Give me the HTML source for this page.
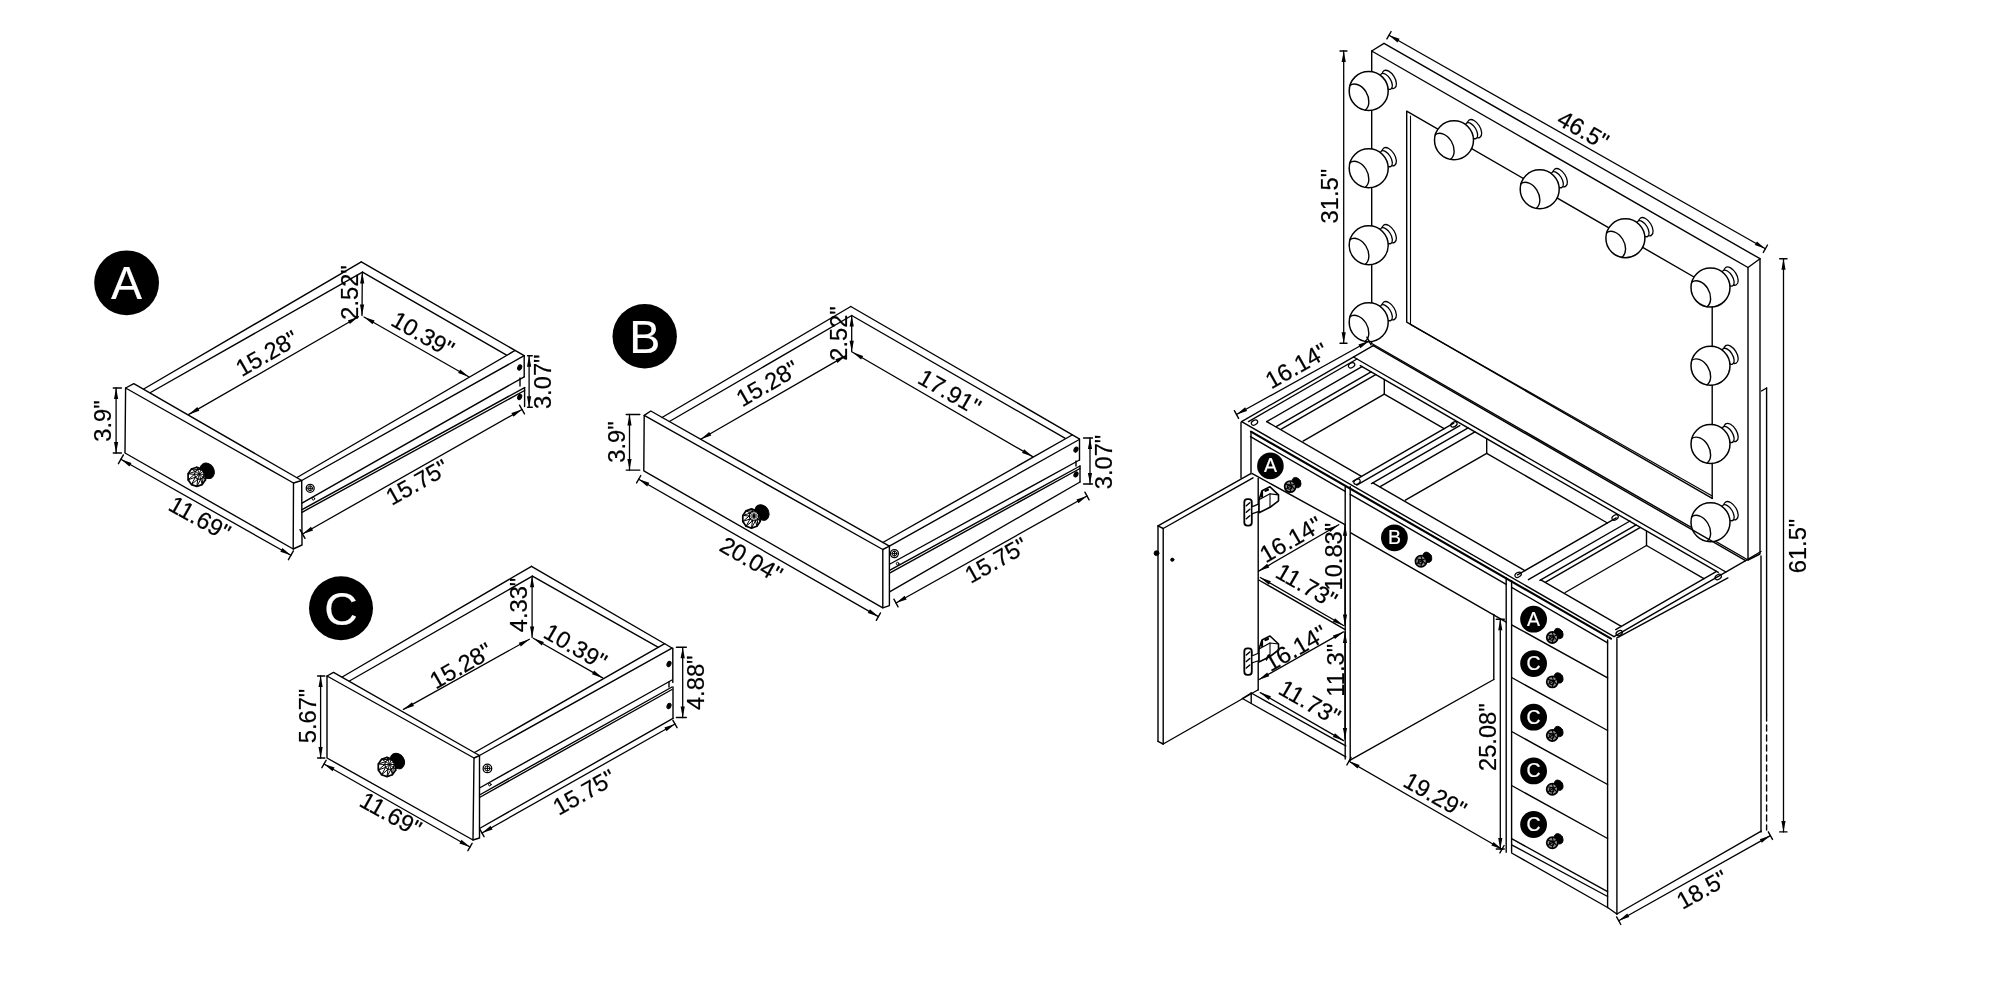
<!DOCTYPE html>
<html><head><meta charset="utf-8"><style>
html,body{margin:0;padding:0;background:#fff;width:2000px;height:1000px;overflow:hidden}
svg{display:block;filter:grayscale(100%)}
svg text{font-family:"Liberation Sans",sans-serif}
</style></head><body>
<svg width="2000" height="1000" viewBox="0 0 2000 1000">
<rect width="2000" height="1000" fill="#fff"/>
<g fill="none" stroke="#000" stroke-width="1.4" stroke-linecap="round" stroke-linejoin="round">
<circle cx="126.6" cy="282.8" r="32.4" fill="#000" stroke="none"/>
<text transform="translate(126.6 282.8) rotate(0)" x="0" y="16.6" font-size="46.5" text-anchor="middle" fill="#fff" stroke="#fff" stroke-width="0.2">A</text>
<polygon points="125.6,388 293.5,483 293.2,549 125,453"/>
<polyline points="125.6,388 133.8,383.7 301.7,480.5 293.5,483"/>
<polyline points="301.7,480.5 302,545 293.2,549"/>
<line x1="143.7" y1="389" x2="361.3" y2="261.9"/>
<line x1="150.5" y1="392.5" x2="362.5" y2="272.1"/>
<line x1="361.3" y1="261.9" x2="524.2" y2="355.7"/>
<line x1="362.5" y1="272.1" x2="506.6" y2="355.2"/>
<line x1="514.7" y1="350.7" x2="297" y2="477.5"/>
<line x1="524.2" y1="355.7" x2="301.7" y2="480.5"/>
<line x1="524.2" y1="355.7" x2="524.2" y2="376.8"/>
<line x1="524.2" y1="376.8" x2="302" y2="503.2"/>
<line x1="520" y1="378" x2="520" y2="386"/>
<line x1="524.6" y1="387.6" x2="302" y2="509.7"/>
<line x1="524.6" y1="390.5" x2="302" y2="512.3"/>
<line x1="524.6" y1="387.6" x2="524.6" y2="406.5"/>
<circle cx="310.2" cy="488.3" r="4" stroke-width="1.3"/>
<circle cx="310.2" cy="488.3" r="2.4" stroke-width="1"/>
<line x1="307.8" y1="488.3" x2="312.6" y2="488.3" stroke-width="1"/>
<line x1="310.2" y1="485.9" x2="310.2" y2="490.7" stroke-width="1"/>
<circle cx="313.4" cy="498.7" r="1.3" stroke-width="1"/>
<ellipse cx="0" cy="0" rx="1.9" ry="2.7" transform="translate(519.7 367.5) rotate(25)" stroke-width="1" fill="#000"/>
<ellipse cx="0" cy="0" rx="1.9" ry="2.7" transform="translate(519.7 397) rotate(25)" stroke-width="1" fill="#000"/>
<line x1="116.1" y1="388" x2="116.1" y2="453" stroke-width="1.3"/>
<polygon fill="#000" stroke="none" points="116.1,388 118.2,399 114,399"/>
<polygon fill="#000" stroke="none" points="116.1,453 114,442 118.2,442"/>
<line x1="113.3" y1="388" x2="121.4" y2="388" stroke-width="1.4"/>
<line x1="113.3" y1="453" x2="121.4" y2="453" stroke-width="1.4"/>
<text transform="translate(102.8 421) rotate(-90)" x="0" y="8.5" font-size="23.7" text-anchor="middle" fill="#000" stroke="#000" stroke-width="0.2">3.9"</text>
<line x1="120.9" y1="459.3" x2="290.9" y2="555.3" stroke-width="1.3"/>
<polygon fill="#000" stroke="none" points="120.9,459.3 131.5,462.9 129.4,466.5"/>
<polygon fill="#000" stroke="none" points="290.9,555.3 280.3,551.7 282.4,548.1"/>
<line x1="123.4" y1="454.9" x2="118.4" y2="463.7" stroke-width="1.4"/>
<line x1="293.4" y1="550.9" x2="288.4" y2="559.7" stroke-width="1.4"/>
<text transform="translate(200 518) rotate(29.5)" x="0" y="8.5" font-size="23.7" text-anchor="middle" fill="#000" stroke="#000" stroke-width="0.2">11.69"</text>
<line x1="188.8" y1="414.4" x2="358.4" y2="316.8" stroke-width="1.3"/>
<polygon fill="#000" stroke="none" points="188.8,414.4 197.3,407.1 199.4,410.7"/>
<polygon fill="#000" stroke="none" points="358.4,316.8 349.9,324.1 347.8,320.5"/>
<text transform="translate(266.7 353) rotate(-30)" x="0" y="8.5" font-size="23.7" text-anchor="middle" fill="#000" stroke="#000" stroke-width="0.2">15.28"</text>
<line x1="364" y1="317" x2="468.7" y2="376.7" stroke-width="1.3"/>
<polygon fill="#000" stroke="none" points="364,317 374.6,320.6 372.5,324.3"/>
<polygon fill="#000" stroke="none" points="468.7,376.7 458.1,373.1 460.2,369.4"/>
<text transform="translate(423 334) rotate(30)" x="0" y="8.5" font-size="23.7" text-anchor="middle" fill="#000" stroke="#000" stroke-width="0.2">10.39"</text>
<line x1="362.3" y1="272.5" x2="362" y2="315.5" stroke-width="1.3"/>
<polygon fill="#000" stroke="none" points="362.3,272.5 364.3,283.5 360.1,283.5"/>
<polygon fill="#000" stroke="none" points="362,315.5 360,304.5 364.2,304.5"/>
<text transform="translate(349.7 292.5) rotate(-90)" x="0" y="8.5" font-size="23.7" text-anchor="middle" fill="#000" stroke="#000" stroke-width="0.2">2.52"</text>
<line x1="529.1" y1="355.7" x2="529.1" y2="407.2" stroke-width="1.3"/>
<polygon fill="#000" stroke="none" points="529.1,355.7 531.2,366.7 527,366.7"/>
<polygon fill="#000" stroke="none" points="529.1,407.2 527,396.2 531.2,396.2"/>
<line x1="527.6" y1="355.7" x2="532.3" y2="355.7" stroke-width="1.4"/>
<line x1="527.6" y1="407.2" x2="532.3" y2="407.2" stroke-width="1.4"/>
<text transform="translate(542 381.8) rotate(-90)" x="0" y="8.5" font-size="23.7" text-anchor="middle" fill="#000" stroke="#000" stroke-width="0.2">3.07"</text>
<line x1="302.5" y1="534" x2="522" y2="409.5" stroke-width="1.3"/>
<polygon fill="#000" stroke="none" points="302.5,534 311,526.7 313.1,530.4"/>
<polygon fill="#000" stroke="none" points="522,409.5 513.5,416.8 511.4,413.1"/>
<line x1="300" y1="529.7" x2="305" y2="538.3" stroke-width="1.4"/>
<line x1="519.5" y1="405.2" x2="524.5" y2="413.8" stroke-width="1.4"/>
<text transform="translate(417 482) rotate(-29.5)" x="0" y="8.5" font-size="23.7" text-anchor="middle" fill="#000" stroke="#000" stroke-width="0.2">15.75"</text>
<ellipse cx="0" cy="0" rx="6.6" ry="8.2" transform="translate(207.3 470.8) rotate(-32)" stroke-width="1" fill="#000"/>
<polygon points="196.8,467.2 202.2,469 205.5,473.8 205.5,479.8 202.2,484.6 196.8,486.4 191.4,484.6 188.1,479.8 188.1,473.8 191.4,469" stroke-width="1.7" fill="#fff"/>
<polygon points="200.8,469.5 203.2,471.4 204.1,474.3 203.2,477.2 200.8,479.1 197.8,479.1 195.4,477.2 194.5,474.3 195.4,471.4 197.8,469.5" stroke-width="1.1"/>
<line x1="200.8" y1="469.5" x2="196.8" y2="467.2" stroke-width="1"/>
<line x1="200.8" y1="469.5" x2="202.2" y2="469" stroke-width="1"/>
<line x1="200.8" y1="469.5" x2="199.3" y2="474.3" stroke-width="0.9"/>
<line x1="203.2" y1="471.4" x2="202.2" y2="469" stroke-width="1"/>
<line x1="203.2" y1="471.4" x2="205.5" y2="473.8" stroke-width="1"/>
<line x1="203.2" y1="471.4" x2="199.3" y2="474.3" stroke-width="0.9"/>
<line x1="204.1" y1="474.3" x2="205.5" y2="473.8" stroke-width="1"/>
<line x1="204.1" y1="474.3" x2="205.5" y2="479.8" stroke-width="1"/>
<line x1="204.1" y1="474.3" x2="199.3" y2="474.3" stroke-width="0.9"/>
<line x1="203.2" y1="477.2" x2="205.5" y2="479.8" stroke-width="1"/>
<line x1="203.2" y1="477.2" x2="202.2" y2="484.6" stroke-width="1"/>
<line x1="203.2" y1="477.2" x2="199.3" y2="474.3" stroke-width="0.9"/>
<line x1="200.8" y1="479.1" x2="202.2" y2="484.6" stroke-width="1"/>
<line x1="200.8" y1="479.1" x2="196.8" y2="486.4" stroke-width="1"/>
<line x1="200.8" y1="479.1" x2="199.3" y2="474.3" stroke-width="0.9"/>
<line x1="197.8" y1="479.1" x2="196.8" y2="486.4" stroke-width="1"/>
<line x1="197.8" y1="479.1" x2="191.4" y2="484.6" stroke-width="1"/>
<line x1="197.8" y1="479.1" x2="199.3" y2="474.3" stroke-width="0.9"/>
<line x1="195.4" y1="477.2" x2="191.4" y2="484.6" stroke-width="1"/>
<line x1="195.4" y1="477.2" x2="188.1" y2="479.8" stroke-width="1"/>
<line x1="195.4" y1="477.2" x2="199.3" y2="474.3" stroke-width="0.9"/>
<line x1="194.5" y1="474.3" x2="188.1" y2="479.8" stroke-width="1"/>
<line x1="194.5" y1="474.3" x2="188.1" y2="473.8" stroke-width="1"/>
<line x1="194.5" y1="474.3" x2="199.3" y2="474.3" stroke-width="0.9"/>
<line x1="195.4" y1="471.4" x2="188.1" y2="473.8" stroke-width="1"/>
<line x1="195.4" y1="471.4" x2="191.4" y2="469" stroke-width="1"/>
<line x1="195.4" y1="471.4" x2="199.3" y2="474.3" stroke-width="0.9"/>
<line x1="197.8" y1="469.5" x2="191.4" y2="469" stroke-width="1"/>
<line x1="197.8" y1="469.5" x2="196.8" y2="467.2" stroke-width="1"/>
<line x1="197.8" y1="469.5" x2="199.3" y2="474.3" stroke-width="0.9"/>
<circle cx="644.7" cy="336.3" r="32.2" fill="#000" stroke="none"/>
<text transform="translate(644.7 336.3) rotate(0)" x="0" y="16.6" font-size="46.5" text-anchor="middle" fill="#fff" stroke="#fff" stroke-width="0.2">B</text>
<polygon points="644.2,415.4 882.8,549.5 882.8,607.8 643.8,470.8"/>
<polyline points="644.2,415.4 650.8,411 889.4,546.2 882.8,549.5"/>
<polyline points="889.4,546.2 889.4,605.6 882.8,607.8"/>
<line x1="662" y1="417.5" x2="850.8" y2="306.5"/>
<line x1="669.4" y1="421.5" x2="851.7" y2="315.5"/>
<line x1="850.8" y1="306.5" x2="1079.3" y2="438.8"/>
<line x1="851.7" y1="315.5" x2="1064.9" y2="438.2"/>
<line x1="1072.1" y1="435" x2="882.8" y2="542.5"/>
<line x1="1079.3" y1="439.5" x2="889.4" y2="546.2"/>
<line x1="1079.5" y1="439" x2="1079.5" y2="460"/>
<line x1="1079.5" y1="460" x2="890" y2="564"/>
<line x1="1076" y1="461" x2="1076" y2="466"/>
<line x1="1080" y1="466" x2="890" y2="570.2"/>
<line x1="1080" y1="468.5" x2="890" y2="572.8"/>
<line x1="1080" y1="466" x2="1080" y2="482"/>
<line x1="1080" y1="482" x2="890" y2="591.7"/>
<circle cx="894.4" cy="553.6" r="4" stroke-width="1.3"/>
<circle cx="894.4" cy="553.6" r="2.4" stroke-width="1"/>
<line x1="892" y1="553.6" x2="896.8" y2="553.6" stroke-width="1"/>
<line x1="894.4" y1="551.2" x2="894.4" y2="556" stroke-width="1"/>
<circle cx="897.6" cy="563.6" r="1.3" stroke-width="1"/>
<ellipse cx="0" cy="0" rx="1.9" ry="2.7" transform="translate(1076 449.6) rotate(25)" stroke-width="1" fill="#000"/>
<ellipse cx="0" cy="0" rx="1.9" ry="2.7" transform="translate(1076 474.4) rotate(25)" stroke-width="1" fill="#000"/>
<line x1="629.5" y1="414.5" x2="629.5" y2="470.1" stroke-width="1.3"/>
<polygon fill="#000" stroke="none" points="629.5,414.5 631.6,425.5 627.4,425.5"/>
<polygon fill="#000" stroke="none" points="629.5,470.1 627.4,459.1 631.6,459.1"/>
<line x1="626.2" y1="414.5" x2="639.8" y2="414.5" stroke-width="1.4"/>
<line x1="626.2" y1="470.1" x2="639.8" y2="470.1" stroke-width="1.4"/>
<text transform="translate(616.2 442) rotate(-90)" x="0" y="8.5" font-size="23.7" text-anchor="middle" fill="#000" stroke="#000" stroke-width="0.2">3.9"</text>
<line x1="638.7" y1="479.2" x2="878.4" y2="616.6" stroke-width="1.3"/>
<polygon fill="#000" stroke="none" points="638.7,479.2 649.3,482.8 647.2,486.5"/>
<polygon fill="#000" stroke="none" points="878.4,616.6 867.8,613 869.9,609.3"/>
<line x1="640.8" y1="475.5" x2="636.6" y2="482.9" stroke-width="1.4"/>
<line x1="880.5" y1="612.9" x2="876.3" y2="620.3" stroke-width="1.4"/>
<text transform="translate(751.5 559.5) rotate(29.8)" x="0" y="8.5" font-size="23.7" text-anchor="middle" fill="#000" stroke="#000" stroke-width="0.2">20.04"</text>
<line x1="700.7" y1="439.2" x2="846" y2="355.6" stroke-width="1.3"/>
<polygon fill="#000" stroke="none" points="700.7,439.2 709.2,431.9 711.3,435.5"/>
<polygon fill="#000" stroke="none" points="846,355.6 837.5,362.9 835.4,359.3"/>
<text transform="translate(767.2 383.1) rotate(-30)" x="0" y="8.5" font-size="23.7" text-anchor="middle" fill="#000" stroke="#000" stroke-width="0.2">15.28"</text>
<line x1="851.7" y1="315.6" x2="851.7" y2="351.8" stroke-width="1.3"/>
<polygon fill="#000" stroke="none" points="851.7,315.6 853.8,326.6 849.6,326.6"/>
<polygon fill="#000" stroke="none" points="851.7,351.8 849.6,340.8 853.8,340.8"/>
<text transform="translate(838 333.5) rotate(-90)" x="0" y="8.5" font-size="23.7" text-anchor="middle" fill="#000" stroke="#000" stroke-width="0.2">2.52"</text>
<line x1="852.6" y1="352.2" x2="1032.6" y2="456.6" stroke-width="1.3"/>
<polygon fill="#000" stroke="none" points="852.6,352.2 863.2,355.9 861.1,359.5"/>
<polygon fill="#000" stroke="none" points="1032.6,456.6 1022,452.9 1024.1,449.3"/>
<text transform="translate(949.8 391.8) rotate(30)" x="0" y="8.5" font-size="23.7" text-anchor="middle" fill="#000" stroke="#000" stroke-width="0.2">17.91"</text>
<line x1="1090" y1="438" x2="1090" y2="484" stroke-width="1.3"/>
<polygon fill="#000" stroke="none" points="1090,438 1092.1,449 1087.9,449"/>
<polygon fill="#000" stroke="none" points="1090,484 1087.9,473 1092.1,473"/>
<line x1="1083.5" y1="438" x2="1092.5" y2="438" stroke-width="1.4"/>
<line x1="1083.5" y1="484" x2="1092.5" y2="484" stroke-width="1.4"/>
<text transform="translate(1103 462) rotate(-90)" x="0" y="8.5" font-size="23.7" text-anchor="middle" fill="#000" stroke="#000" stroke-width="0.2">3.07"</text>
<line x1="896" y1="603" x2="1087" y2="496" stroke-width="1.3"/>
<polygon fill="#000" stroke="none" points="896,603 904.6,595.8 906.6,599.5"/>
<polygon fill="#000" stroke="none" points="1087,496 1078.4,503.2 1076.4,499.5"/>
<line x1="893.9" y1="599.2" x2="898.1" y2="606.8" stroke-width="1.4"/>
<line x1="1084.9" y1="492.2" x2="1089.1" y2="499.8" stroke-width="1.4"/>
<text transform="translate(996 560) rotate(-29.5)" x="0" y="8.5" font-size="23.7" text-anchor="middle" fill="#000" stroke="#000" stroke-width="0.2">15.75"</text>
<ellipse cx="0" cy="0" rx="6.6" ry="8.2" transform="translate(762 512.5) rotate(-32)" stroke-width="1" fill="#000"/>
<polygon points="751.5,508.9 756.9,510.7 760.2,515.5 760.2,521.5 756.9,526.3 751.5,528.1 746.1,526.3 742.8,521.5 742.8,515.5 746.1,510.7" stroke-width="1.7" fill="#fff"/>
<polygon points="755.5,511.2 757.9,513.1 758.8,516 757.9,518.9 755.5,520.8 752.5,520.8 750.1,518.9 749.2,516 750.1,513.1 752.5,511.2" stroke-width="1.1"/>
<line x1="755.5" y1="511.2" x2="751.5" y2="508.9" stroke-width="1"/>
<line x1="755.5" y1="511.2" x2="756.9" y2="510.7" stroke-width="1"/>
<line x1="755.5" y1="511.2" x2="754" y2="516" stroke-width="0.9"/>
<line x1="757.9" y1="513.1" x2="756.9" y2="510.7" stroke-width="1"/>
<line x1="757.9" y1="513.1" x2="760.2" y2="515.5" stroke-width="1"/>
<line x1="757.9" y1="513.1" x2="754" y2="516" stroke-width="0.9"/>
<line x1="758.8" y1="516" x2="760.2" y2="515.5" stroke-width="1"/>
<line x1="758.8" y1="516" x2="760.2" y2="521.5" stroke-width="1"/>
<line x1="758.8" y1="516" x2="754" y2="516" stroke-width="0.9"/>
<line x1="757.9" y1="518.9" x2="760.2" y2="521.5" stroke-width="1"/>
<line x1="757.9" y1="518.9" x2="756.9" y2="526.3" stroke-width="1"/>
<line x1="757.9" y1="518.9" x2="754" y2="516" stroke-width="0.9"/>
<line x1="755.5" y1="520.8" x2="756.9" y2="526.3" stroke-width="1"/>
<line x1="755.5" y1="520.8" x2="751.5" y2="528.1" stroke-width="1"/>
<line x1="755.5" y1="520.8" x2="754" y2="516" stroke-width="0.9"/>
<line x1="752.5" y1="520.8" x2="751.5" y2="528.1" stroke-width="1"/>
<line x1="752.5" y1="520.8" x2="746.1" y2="526.3" stroke-width="1"/>
<line x1="752.5" y1="520.8" x2="754" y2="516" stroke-width="0.9"/>
<line x1="750.1" y1="518.9" x2="746.1" y2="526.3" stroke-width="1"/>
<line x1="750.1" y1="518.9" x2="742.8" y2="521.5" stroke-width="1"/>
<line x1="750.1" y1="518.9" x2="754" y2="516" stroke-width="0.9"/>
<line x1="749.2" y1="516" x2="742.8" y2="521.5" stroke-width="1"/>
<line x1="749.2" y1="516" x2="742.8" y2="515.5" stroke-width="1"/>
<line x1="749.2" y1="516" x2="754" y2="516" stroke-width="0.9"/>
<line x1="750.1" y1="513.1" x2="742.8" y2="515.5" stroke-width="1"/>
<line x1="750.1" y1="513.1" x2="746.1" y2="510.7" stroke-width="1"/>
<line x1="750.1" y1="513.1" x2="754" y2="516" stroke-width="0.9"/>
<line x1="752.5" y1="511.2" x2="746.1" y2="510.7" stroke-width="1"/>
<line x1="752.5" y1="511.2" x2="751.5" y2="508.9" stroke-width="1"/>
<line x1="752.5" y1="511.2" x2="754" y2="516" stroke-width="0.9"/>
<circle cx="341" cy="608.2" r="32" fill="#000" stroke="none"/>
<text transform="translate(341 608.2) rotate(0)" x="0" y="16.6" font-size="46.5" text-anchor="middle" fill="#fff" stroke="#fff" stroke-width="0.2">C</text>
<polygon points="327,676 474,758 473,840 327,758"/>
<polyline points="327,676 333.5,672.4 479.5,755.5 474,758"/>
<polyline points="479.5,755.5 479.5,838 473,840"/>
<line x1="342.2" y1="677" x2="531.5" y2="566.3"/>
<line x1="349.4" y1="681" x2="532.4" y2="576.2"/>
<line x1="531.5" y1="566.3" x2="672" y2="648"/>
<line x1="532.4" y1="576.2" x2="658.4" y2="647.3"/>
<line x1="664.7" y1="643.7" x2="474.5" y2="752.5"/>
<line x1="672" y1="648.2" x2="479.5" y2="755.5"/>
<line x1="672.8" y1="648.2" x2="672.8" y2="682.4"/>
<line x1="672" y1="680" x2="479.5" y2="788"/>
<line x1="669" y1="682" x2="669" y2="687"/>
<line x1="672" y1="687" x2="479.5" y2="795"/>
<line x1="672" y1="689.5" x2="479.5" y2="797.5"/>
<line x1="673" y1="687" x2="673" y2="718.4"/>
<line x1="673" y1="718.4" x2="479.5" y2="828.5"/>
<circle cx="487.4" cy="768.4" r="4.3" stroke-width="1.3"/>
<circle cx="487.4" cy="768.4" r="2.6" stroke-width="1"/>
<line x1="484.8" y1="768.4" x2="490" y2="768.4" stroke-width="1"/>
<line x1="487.4" y1="765.8" x2="487.4" y2="771" stroke-width="1"/>
<circle cx="489.8" cy="784.6" r="1.3" stroke-width="1"/>
<ellipse cx="0" cy="0" rx="1.9" ry="2.7" transform="translate(669 664) rotate(25)" stroke-width="1" fill="#000"/>
<ellipse cx="0" cy="0" rx="1.9" ry="2.7" transform="translate(669 706) rotate(25)" stroke-width="1" fill="#000"/>
<line x1="320.6" y1="676" x2="320.6" y2="758" stroke-width="1.3"/>
<polygon fill="#000" stroke="none" points="320.6,676 322.7,687 318.5,687"/>
<polygon fill="#000" stroke="none" points="320.6,758 318.5,747 322.7,747"/>
<line x1="317.6" y1="676" x2="324.8" y2="676" stroke-width="1.4"/>
<line x1="317.6" y1="758" x2="324.8" y2="758" stroke-width="1.4"/>
<text transform="translate(307 716) rotate(-90)" x="0" y="8.5" font-size="23.7" text-anchor="middle" fill="#000" stroke="#000" stroke-width="0.2">5.67"</text>
<line x1="324" y1="764" x2="470" y2="847" stroke-width="1.3"/>
<polygon fill="#000" stroke="none" points="324,764 334.6,767.6 332.5,771.3"/>
<polygon fill="#000" stroke="none" points="470,847 459.4,843.4 461.5,839.7"/>
<line x1="326.1" y1="760.3" x2="321.9" y2="767.7" stroke-width="1.4"/>
<line x1="472.1" y1="843.3" x2="467.9" y2="850.7" stroke-width="1.4"/>
<text transform="translate(391 814) rotate(29.5)" x="0" y="8.5" font-size="23.7" text-anchor="middle" fill="#000" stroke="#000" stroke-width="0.2">11.69"</text>
<line x1="403.4" y1="709.4" x2="529.4" y2="639.2" stroke-width="1.3"/>
<polygon fill="#000" stroke="none" points="403.4,709.4 412,702.2 414,705.9"/>
<polygon fill="#000" stroke="none" points="529.4,639.2 520.8,646.4 518.8,642.7"/>
<text transform="translate(460.7 665.4) rotate(-30)" x="0" y="8.5" font-size="23.7" text-anchor="middle" fill="#000" stroke="#000" stroke-width="0.2">15.28"</text>
<line x1="532.1" y1="576.2" x2="532.1" y2="637.4" stroke-width="1.3"/>
<polygon fill="#000" stroke="none" points="532.1,576.2 534.2,587.2 530,587.2"/>
<polygon fill="#000" stroke="none" points="532.1,637.4 530,626.4 534.2,626.4"/>
<text transform="translate(518.6 605) rotate(-90)" x="0" y="8.5" font-size="23.7" text-anchor="middle" fill="#000" stroke="#000" stroke-width="0.2">4.33"</text>
<line x1="533.3" y1="638.3" x2="602.6" y2="677.9" stroke-width="1.3"/>
<polygon fill="#000" stroke="none" points="533.3,638.3 543.9,641.9 541.8,645.6"/>
<polygon fill="#000" stroke="none" points="602.6,677.9 592,674.3 594.1,670.6"/>
<text transform="translate(575.6 646.4) rotate(30)" x="0" y="8.5" font-size="23.7" text-anchor="middle" fill="#000" stroke="#000" stroke-width="0.2">10.39"</text>
<line x1="682.7" y1="647.3" x2="682.7" y2="717.5" stroke-width="1.3"/>
<polygon fill="#000" stroke="none" points="682.7,647.3 684.8,658.3 680.6,658.3"/>
<polygon fill="#000" stroke="none" points="682.7,717.5 680.6,706.5 684.8,706.5"/>
<line x1="676.4" y1="647.3" x2="686.3" y2="647.3" stroke-width="1.4"/>
<line x1="676.4" y1="717.5" x2="686.3" y2="717.5" stroke-width="1.4"/>
<text transform="translate(695.7 682.8) rotate(-90)" x="0" y="8.5" font-size="23.7" text-anchor="middle" fill="#000" stroke="#000" stroke-width="0.2">4.88"</text>
<line x1="482" y1="833" x2="675" y2="724" stroke-width="1.3"/>
<polygon fill="#000" stroke="none" points="482,833 490.5,825.8 492.6,829.4"/>
<polygon fill="#000" stroke="none" points="675,724 666.5,731.2 664.4,727.6"/>
<line x1="479.9" y1="829.3" x2="484.1" y2="836.7" stroke-width="1.4"/>
<line x1="672.9" y1="720.3" x2="677.1" y2="727.7" stroke-width="1.4"/>
<text transform="translate(584 792) rotate(-29.5)" x="0" y="8.5" font-size="23.7" text-anchor="middle" fill="#000" stroke="#000" stroke-width="0.2">15.75"</text>
<ellipse cx="0" cy="0" rx="6.6" ry="8.2" transform="translate(397.5 761) rotate(-32)" stroke-width="1" fill="#000"/>
<polygon points="387,757.4 392.4,759.2 395.7,764 395.7,770 392.4,774.8 387,776.6 381.6,774.8 378.3,770 378.3,764 381.6,759.2" stroke-width="1.7" fill="#fff"/>
<polygon points="391,759.7 393.4,761.6 394.3,764.5 393.4,767.4 391,769.3 388,769.3 385.6,767.4 384.7,764.5 385.6,761.6 388,759.7" stroke-width="1.1"/>
<line x1="391" y1="759.7" x2="387" y2="757.4" stroke-width="1"/>
<line x1="391" y1="759.7" x2="392.4" y2="759.2" stroke-width="1"/>
<line x1="391" y1="759.7" x2="389.5" y2="764.5" stroke-width="0.9"/>
<line x1="393.4" y1="761.6" x2="392.4" y2="759.2" stroke-width="1"/>
<line x1="393.4" y1="761.6" x2="395.7" y2="764" stroke-width="1"/>
<line x1="393.4" y1="761.6" x2="389.5" y2="764.5" stroke-width="0.9"/>
<line x1="394.3" y1="764.5" x2="395.7" y2="764" stroke-width="1"/>
<line x1="394.3" y1="764.5" x2="395.7" y2="770" stroke-width="1"/>
<line x1="394.3" y1="764.5" x2="389.5" y2="764.5" stroke-width="0.9"/>
<line x1="393.4" y1="767.4" x2="395.7" y2="770" stroke-width="1"/>
<line x1="393.4" y1="767.4" x2="392.4" y2="774.8" stroke-width="1"/>
<line x1="393.4" y1="767.4" x2="389.5" y2="764.5" stroke-width="0.9"/>
<line x1="391" y1="769.3" x2="392.4" y2="774.8" stroke-width="1"/>
<line x1="391" y1="769.3" x2="387" y2="776.6" stroke-width="1"/>
<line x1="391" y1="769.3" x2="389.5" y2="764.5" stroke-width="0.9"/>
<line x1="388" y1="769.3" x2="387" y2="776.6" stroke-width="1"/>
<line x1="388" y1="769.3" x2="381.6" y2="774.8" stroke-width="1"/>
<line x1="388" y1="769.3" x2="389.5" y2="764.5" stroke-width="0.9"/>
<line x1="385.6" y1="767.4" x2="381.6" y2="774.8" stroke-width="1"/>
<line x1="385.6" y1="767.4" x2="378.3" y2="770" stroke-width="1"/>
<line x1="385.6" y1="767.4" x2="389.5" y2="764.5" stroke-width="0.9"/>
<line x1="384.7" y1="764.5" x2="378.3" y2="770" stroke-width="1"/>
<line x1="384.7" y1="764.5" x2="378.3" y2="764" stroke-width="1"/>
<line x1="384.7" y1="764.5" x2="389.5" y2="764.5" stroke-width="0.9"/>
<line x1="385.6" y1="761.6" x2="378.3" y2="764" stroke-width="1"/>
<line x1="385.6" y1="761.6" x2="381.6" y2="759.2" stroke-width="1"/>
<line x1="385.6" y1="761.6" x2="389.5" y2="764.5" stroke-width="0.9"/>
<line x1="388" y1="759.7" x2="381.6" y2="759.2" stroke-width="1"/>
<line x1="388" y1="759.7" x2="387" y2="757.4" stroke-width="1"/>
<line x1="388" y1="759.7" x2="389.5" y2="764.5" stroke-width="0.9"/>
<polygon points="1371.7,51 1748,267.5 1748,560 1371.7,343.5"/>
<polyline points="1371.7,51 1384,43.3 1760,258.7 1748,267.5"/>
<polyline points="1760,258.7 1760,554 1748,560"/>
<polyline points="1712.2,287.5 1406.7,111.2 1406.7,322.2 1712.2,498.4"/>
<line x1="1712.2" y1="287.5" x2="1712.2" y2="498.4"/>
<line x1="1410.5" y1="116" x2="1410.5" y2="324.4" stroke-width="1.1"/>
<line x1="1410.5" y1="324.4" x2="1712.2" y2="495.9" stroke-width="1.1"/>
<ellipse cx="0" cy="0" rx="5.6" ry="10.2" transform="translate(1389.2 79.4) rotate(-32)" stroke-width="1.3" fill="#fff"/>
<ellipse cx="0" cy="0" rx="4.6" ry="9" transform="translate(1386.2 81.4) rotate(-32)" stroke-width="1.3" fill="#fff"/>
<circle cx="1368.7" cy="90.9" r="19.5" stroke-width="1.5" fill="#fff"/>
<path d="M 1349.9 85.4 A 9.5 13.5 -28 0 1 1365.2 110" stroke-width="1.4"/>
<ellipse cx="0" cy="0" rx="5.6" ry="10.2" transform="translate(1389.2 156.7) rotate(-32)" stroke-width="1.3" fill="#fff"/>
<ellipse cx="0" cy="0" rx="4.6" ry="9" transform="translate(1386.2 158.7) rotate(-32)" stroke-width="1.3" fill="#fff"/>
<circle cx="1368.7" cy="168.2" r="19.5" stroke-width="1.5" fill="#fff"/>
<path d="M 1349.9 162.7 A 9.5 13.5 -28 0 1 1365.2 187.3" stroke-width="1.4"/>
<ellipse cx="0" cy="0" rx="5.6" ry="10.2" transform="translate(1389.2 233.7) rotate(-32)" stroke-width="1.3" fill="#fff"/>
<ellipse cx="0" cy="0" rx="4.6" ry="9" transform="translate(1386.2 235.7) rotate(-32)" stroke-width="1.3" fill="#fff"/>
<circle cx="1368.7" cy="245.2" r="19.5" stroke-width="1.5" fill="#fff"/>
<path d="M 1349.9 239.7 A 9.5 13.5 -28 0 1 1365.2 264.3" stroke-width="1.4"/>
<ellipse cx="0" cy="0" rx="5.6" ry="10.2" transform="translate(1389.2 310.7) rotate(-32)" stroke-width="1.3" fill="#fff"/>
<ellipse cx="0" cy="0" rx="4.6" ry="9" transform="translate(1386.2 312.7) rotate(-32)" stroke-width="1.3" fill="#fff"/>
<circle cx="1368.7" cy="322.2" r="19.5" stroke-width="1.5" fill="#fff"/>
<path d="M 1349.9 316.7 A 9.5 13.5 -28 0 1 1365.2 341.3" stroke-width="1.4"/>
<ellipse cx="0" cy="0" rx="5.6" ry="10.2" transform="translate(1474.5 128.7) rotate(-32)" stroke-width="1.3" fill="#fff"/>
<ellipse cx="0" cy="0" rx="4.6" ry="9" transform="translate(1471.5 130.7) rotate(-32)" stroke-width="1.3" fill="#fff"/>
<circle cx="1454" cy="140.2" r="19.5" stroke-width="1.5" fill="#fff"/>
<path d="M 1435.2 134.7 A 9.5 13.5 -28 0 1 1450.5 159.3" stroke-width="1.4"/>
<ellipse cx="0" cy="0" rx="5.6" ry="10.2" transform="translate(1560.2 177.7) rotate(-32)" stroke-width="1.3" fill="#fff"/>
<ellipse cx="0" cy="0" rx="4.6" ry="9" transform="translate(1557.2 179.7) rotate(-32)" stroke-width="1.3" fill="#fff"/>
<circle cx="1539.7" cy="189.2" r="19.5" stroke-width="1.5" fill="#fff"/>
<path d="M 1520.9 183.7 A 9.5 13.5 -28 0 1 1536.2 208.3" stroke-width="1.4"/>
<ellipse cx="0" cy="0" rx="5.6" ry="10.2" transform="translate(1645.9 226.7) rotate(-32)" stroke-width="1.3" fill="#fff"/>
<ellipse cx="0" cy="0" rx="4.6" ry="9" transform="translate(1642.9 228.7) rotate(-32)" stroke-width="1.3" fill="#fff"/>
<circle cx="1625.4" cy="238.2" r="19.5" stroke-width="1.5" fill="#fff"/>
<path d="M 1606.6 232.7 A 9.5 13.5 -28 0 1 1621.9 257.3" stroke-width="1.4"/>
<ellipse cx="0" cy="0" rx="5.6" ry="10.2" transform="translate(1731 276.1) rotate(-32)" stroke-width="1.3" fill="#fff"/>
<ellipse cx="0" cy="0" rx="4.6" ry="9" transform="translate(1728 278.1) rotate(-32)" stroke-width="1.3" fill="#fff"/>
<circle cx="1710.5" cy="287.6" r="19.5" stroke-width="1.5" fill="#fff"/>
<path d="M 1691.7 282.1 A 9.5 13.5 -28 0 1 1707 306.7" stroke-width="1.4"/>
<ellipse cx="0" cy="0" rx="5.6" ry="10.2" transform="translate(1731 354.3) rotate(-32)" stroke-width="1.3" fill="#fff"/>
<ellipse cx="0" cy="0" rx="4.6" ry="9" transform="translate(1728 356.3) rotate(-32)" stroke-width="1.3" fill="#fff"/>
<circle cx="1710.5" cy="365.8" r="19.5" stroke-width="1.5" fill="#fff"/>
<path d="M 1691.7 360.3 A 9.5 13.5 -28 0 1 1707 384.9" stroke-width="1.4"/>
<ellipse cx="0" cy="0" rx="5.6" ry="10.2" transform="translate(1731 432.5) rotate(-32)" stroke-width="1.3" fill="#fff"/>
<ellipse cx="0" cy="0" rx="4.6" ry="9" transform="translate(1728 434.5) rotate(-32)" stroke-width="1.3" fill="#fff"/>
<circle cx="1710.5" cy="444" r="19.5" stroke-width="1.5" fill="#fff"/>
<path d="M 1691.7 438.5 A 9.5 13.5 -28 0 1 1707 463.1" stroke-width="1.4"/>
<ellipse cx="0" cy="0" rx="5.6" ry="10.2" transform="translate(1731 510.7) rotate(-32)" stroke-width="1.3" fill="#fff"/>
<ellipse cx="0" cy="0" rx="4.6" ry="9" transform="translate(1728 512.7) rotate(-32)" stroke-width="1.3" fill="#fff"/>
<circle cx="1710.5" cy="522.2" r="19.5" stroke-width="1.5" fill="#fff"/>
<path d="M 1691.7 516.7 A 9.5 13.5 -28 0 1 1707 541.3" stroke-width="1.4"/>
<line x1="1389" y1="35.2" x2="1765.4" y2="248.7" stroke-width="1.3"/>
<polygon fill="#000" stroke="none" points="1389,35.2 1399.6,38.8 1397.5,42.5"/>
<polygon fill="#000" stroke="none" points="1765.4,248.7 1754.8,245.1 1756.9,241.4"/>
<line x1="1391.1" y1="31.5" x2="1386.9" y2="38.9" stroke-width="1.4"/>
<line x1="1767.5" y1="245" x2="1763.3" y2="252.4" stroke-width="1.4"/>
<text transform="translate(1583.4 129.7) rotate(29.6)" x="0" y="8.5" font-size="23.7" text-anchor="middle" fill="#000" stroke="#000" stroke-width="0.2">46.5"</text>
<line x1="1343.7" y1="51" x2="1343.7" y2="343.2" stroke-width="1.3"/>
<polygon fill="#000" stroke="none" points="1343.7,51 1345.8,62 1341.6,62"/>
<polygon fill="#000" stroke="none" points="1343.7,343.2 1341.6,332.2 1345.8,332.2"/>
<line x1="1340" y1="51" x2="1347" y2="51" stroke-width="1.4"/>
<line x1="1340" y1="343.2" x2="1347" y2="343.2" stroke-width="1.4"/>
<text transform="translate(1329.7 196.2) rotate(-90)" x="0" y="8.5" font-size="23.7" text-anchor="middle" fill="#000" stroke="#000" stroke-width="0.2">31.5"</text>
<line x1="1783.5" y1="258.7" x2="1783.5" y2="831.9" stroke-width="1.3"/>
<polygon fill="#000" stroke="none" points="1783.5,258.7 1785.6,269.7 1781.4,269.7"/>
<polygon fill="#000" stroke="none" points="1783.5,831.9 1781.4,820.9 1785.6,820.9"/>
<line x1="1779.7" y1="258.7" x2="1787" y2="258.7" stroke-width="1.4"/>
<line x1="1779.7" y1="831.9" x2="1787" y2="831.9" stroke-width="1.4"/>
<text transform="translate(1797.2 546) rotate(-90)" x="0" y="8.5" font-size="23.7" text-anchor="middle" fill="#000" stroke="#000" stroke-width="0.2">61.5"</text>
<line x1="1766.6" y1="388" x2="1766.6" y2="715"/>
<line x1="1766.6" y1="715" x2="1766.6" y2="830" stroke-dasharray="6 4"/>
<line x1="1761.5" y1="391" x2="1766.6" y2="388"/>
<line x1="1241.6" y1="421.6" x2="1373.2" y2="345.6"/>
<line x1="1241.6" y1="421.6" x2="1614" y2="636.6"/>
<line x1="1373.2" y1="345.6" x2="1745.6" y2="560.6"/>
<line x1="1614" y1="636.6" x2="1745.6" y2="560.6"/>
<line x1="1745.6" y1="560.6" x2="1761" y2="551.5"/>
<line x1="1251" y1="431.6" x2="1611" y2="638.6" stroke-width="2.2"/>
<line x1="1250.5" y1="436.7" x2="1345.2" y2="491.4"/>
<line x1="1350.2" y1="494.3" x2="1506.2" y2="584.3"/>
<line x1="1511.6" y1="587.4" x2="1607.6" y2="642.8"/>
<line x1="1248.5" y1="421.6" x2="1357" y2="359"/>
<line x1="1353.5" y1="357" x2="1725.9" y2="572"/>
<line x1="1360.3" y1="365.7" x2="1718.3" y2="572.4"/>
<line x1="1266.7" y1="421.6" x2="1361.5" y2="476.4"/>
<line x1="1372.8" y1="482.9" x2="1524.9" y2="570.7"/>
<line x1="1540.8" y1="579.9" x2="1621.3" y2="626.4"/>
<line x1="1615.7" y1="629.6" x2="1716.6" y2="571.4"/>
<line x1="1616.6" y1="638.1" x2="1727.9" y2="577.9"/>
<line x1="1266.7" y1="421.6" x2="1362" y2="366.6"/>
<line x1="1276.2" y1="426.6" x2="1371.1" y2="371.9"/>
<line x1="1280.9" y1="429.3" x2="1375.7" y2="374.6"/>
<line x1="1352.9" y1="481.4" x2="1453.8" y2="423.1"/>
<line x1="1356.8" y1="485.1" x2="1459.8" y2="425.6"/>
<line x1="1371.5" y1="483.6" x2="1468.1" y2="427.9"/>
<line x1="1380.2" y1="486.6" x2="1475" y2="431.9"/>
<line x1="1517.5" y1="574.9" x2="1616.2" y2="517.9"/>
<line x1="1528.4" y1="579.7" x2="1630" y2="521"/>
<line x1="1539.9" y1="580.4" x2="1636.1" y2="524.9"/>
<line x1="1545.6" y1="582.1" x2="1640.4" y2="527.4"/>
<line x1="1384.3" y1="379.5" x2="1384.3" y2="394.2"/>
<line x1="1303.1" y1="441.1" x2="1384.3" y2="394.2"/>
<line x1="1384.3" y1="394.2" x2="1444.1" y2="428.7"/>
<line x1="1486.7" y1="438.6" x2="1486.7" y2="453.3"/>
<line x1="1405.4" y1="500.2" x2="1486.7" y2="453.3"/>
<line x1="1486.7" y1="453.3" x2="1607.4" y2="523"/>
<line x1="1646.5" y1="530.9" x2="1646.5" y2="545.6"/>
<line x1="1565.2" y1="592.5" x2="1646.5" y2="545.5"/>
<line x1="1646.5" y1="545.5" x2="1703.9" y2="578.7"/>
<ellipse cx="0" cy="0" rx="3.4" ry="2.3" transform="translate(1254.5 422.6) rotate(-30)" stroke-width="1.2"/>
<ellipse cx="0" cy="0" rx="3.4" ry="2.3" transform="translate(1357 481.7) rotate(-30)" stroke-width="1.2"/>
<ellipse cx="0" cy="0" rx="3.4" ry="2.3" transform="translate(1518.1 574.8) rotate(-30)" stroke-width="1.2"/>
<ellipse cx="0" cy="0" rx="3.4" ry="2.3" transform="translate(1619.2 633.1) rotate(-30)" stroke-width="1.2"/>
<ellipse cx="0" cy="0" rx="3.4" ry="2.3" transform="translate(1351.6 365.3) rotate(-30)" stroke-width="1.2"/>
<ellipse cx="0" cy="0" rx="3.4" ry="2.3" transform="translate(1453.9 424.4) rotate(-30)" stroke-width="1.2"/>
<ellipse cx="0" cy="0" rx="3.4" ry="2.3" transform="translate(1615.1 517.5) rotate(-30)" stroke-width="1.2"/>
<ellipse cx="0" cy="0" rx="3.4" ry="2.3" transform="translate(1718.2 577) rotate(-30)" stroke-width="1.2"/>
<line x1="1236.5" y1="414.5" x2="1369" y2="341" stroke-width="1.3"/>
<polygon fill="#000" stroke="none" points="1236.5,414.5 1245.1,407.3 1247.1,411"/>
<polygon fill="#000" stroke="none" points="1369,341 1360.4,348.2 1358.4,344.5"/>
<line x1="1234.4" y1="410.7" x2="1238.6" y2="418.3" stroke-width="1.4"/>
<line x1="1366.9" y1="337.2" x2="1371.1" y2="344.8" stroke-width="1.4"/>
<text transform="translate(1296.5 365.5) rotate(-29.5)" x="0" y="8.5" font-size="23.7" text-anchor="middle" fill="#000" stroke="#000" stroke-width="0.2">16.14"</text>
<line x1="1241" y1="422.5" x2="1241" y2="478"/>
<line x1="1251" y1="432" x2="1251" y2="474"/>
<line x1="1252.3" y1="473.6" x2="1345" y2="524.7"/>
<circle cx="1270.4" cy="465.9" r="13.3" fill="#000" stroke="none"/>
<text transform="translate(1270.4 465.2) rotate(0)" x="0" y="7" font-size="19.5" text-anchor="middle" fill="#fff" stroke="#fff" stroke-width="0.2">A</text>
<ellipse cx="0" cy="0" rx="4.2" ry="5.5" transform="translate(1296.5 482.6) rotate(-30)" stroke-width="0.8" fill="#000"/>
<circle cx="1290.2" cy="486.6" r="5.6" stroke-width="1.7" fill="#8a8a8a"/>
<line x1="1291.4" y1="485.6" x2="1294.5" y2="489.1" stroke-width="1.1"/>
<line x1="1291.4" y1="485.6" x2="1290.2" y2="491.6" stroke-width="1.1"/>
<line x1="1291.4" y1="485.6" x2="1285.9" y2="489.1" stroke-width="1.1"/>
<line x1="1291.4" y1="485.6" x2="1285.9" y2="484.1" stroke-width="1.1"/>
<line x1="1291.4" y1="485.6" x2="1290.2" y2="481.6" stroke-width="1.1"/>
<line x1="1291.4" y1="485.6" x2="1294.5" y2="484.1" stroke-width="1.1"/>
<circle cx="1289.7" cy="487.1" r="2.2" stroke-width="1.1"/>
<line x1="1158" y1="525.9" x2="1250.3" y2="473.9"/>
<line x1="1163.2" y1="528.5" x2="1253" y2="477.8"/>
<line x1="1158" y1="525.9" x2="1163.2" y2="528.5"/>
<line x1="1158" y1="525.9" x2="1158" y2="741.4"/>
<line x1="1163.2" y1="528.5" x2="1163.2" y2="744"/>
<line x1="1158" y1="741.4" x2="1163.2" y2="744"/>
<line x1="1163.2" y1="744" x2="1257.8" y2="690"/>
<circle cx="1156.5" cy="553.2" r="2.4" stroke-width="1" fill="#000"/>
<circle cx="1172.3" cy="559.7" r="1.6" stroke-width="1" fill="#000"/>
<line x1="1258.2" y1="478.4" x2="1258.2" y2="690"/>
<line x1="1258.8" y1="580" x2="1345.2" y2="629.6"/>
<line x1="1251.2" y1="693" x2="1345.8" y2="745.8"/>
<line x1="1242.4" y1="698.5" x2="1345.8" y2="756.8"/>
<line x1="1251.2" y1="693" x2="1251.2" y2="702.9"/>
<line x1="1242.4" y1="698.5" x2="1251.2" y2="693"/>
<rect x="1244.3" y="499.2" width="7.5" height="26.4" rx="3" stroke-width="1.8" fill="#fff"/>
<line x1="1246.3" y1="505.8" x2="1249.8" y2="502.8" stroke-width="1.5"/>
<line x1="1246.3" y1="512.3" x2="1249.8" y2="509.3" stroke-width="1.5"/>
<line x1="1246.3" y1="518.8" x2="1249.8" y2="515.8" stroke-width="1.5"/>
<polygon points="1251.8,506.8 1259,503.8 1259,511.3 1251.8,513.8" stroke-width="1.3" fill="#fff"/>
<polygon points="1259,499.8 1259,512.8 1270,507.3 1278.5,500.8 1278.5,494.8 1270,486.8 1262,490.8" stroke-width="1.6" fill="#fff"/>
<polyline points="1259,499.8 1270,493.8 1278.5,494.8" stroke-width="1.2"/>
<line x1="1270" y1="493.8" x2="1270" y2="507.3" stroke-width="1.1"/>
<line x1="1262" y1="491.8" x2="1262" y2="496.8" stroke-width="2.2"/>
<line x1="1265.5" y1="490.8" x2="1268" y2="489.8" stroke-width="2.2"/>
<rect x="1244.3" y="648.4" width="7.5" height="26.4" rx="3" stroke-width="1.8" fill="#fff"/>
<line x1="1246.3" y1="655" x2="1249.8" y2="652" stroke-width="1.5"/>
<line x1="1246.3" y1="661.5" x2="1249.8" y2="658.5" stroke-width="1.5"/>
<line x1="1246.3" y1="668" x2="1249.8" y2="665" stroke-width="1.5"/>
<polygon points="1251.8,656 1259,653 1259,660.5 1251.8,663" stroke-width="1.3" fill="#fff"/>
<polygon points="1259,649 1259,662 1270,656.5 1278.5,650 1278.5,644 1270,636 1262,640" stroke-width="1.6" fill="#fff"/>
<polyline points="1259,649 1270,643 1278.5,644" stroke-width="1.2"/>
<line x1="1270" y1="643" x2="1270" y2="656.5" stroke-width="1.1"/>
<line x1="1262" y1="641" x2="1262" y2="646" stroke-width="2.2"/>
<line x1="1265.5" y1="640" x2="1268" y2="639" stroke-width="2.2"/>
<line x1="1345.2" y1="486.8" x2="1345.2" y2="759"/>
<line x1="1350.2" y1="486.8" x2="1350.2" y2="760.5"/>
<line x1="1506.2" y1="578" x2="1506.2" y2="852.3"/>
<line x1="1511.6" y1="580.8" x2="1511.6" y2="852.3"/>
<line x1="1350.8" y1="532.8" x2="1506.2" y2="622.2"/>
<circle cx="1394.4" cy="537.8" r="13.4" fill="#000" stroke="none"/>
<text transform="translate(1394.4 537.1) rotate(0)" x="0" y="7" font-size="19.5" text-anchor="middle" fill="#fff" stroke="#fff" stroke-width="0.2">B</text>
<ellipse cx="0" cy="0" rx="4.2" ry="5.5" transform="translate(1427.3 557.3) rotate(-30)" stroke-width="0.8" fill="#000"/>
<circle cx="1421" cy="561.3" r="5.6" stroke-width="1.7" fill="#8a8a8a"/>
<line x1="1422.2" y1="560.3" x2="1425.3" y2="563.8" stroke-width="1.1"/>
<line x1="1422.2" y1="560.3" x2="1421" y2="566.3" stroke-width="1.1"/>
<line x1="1422.2" y1="560.3" x2="1416.7" y2="563.8" stroke-width="1.1"/>
<line x1="1422.2" y1="560.3" x2="1416.7" y2="558.8" stroke-width="1.1"/>
<line x1="1422.2" y1="560.3" x2="1421" y2="556.3" stroke-width="1.1"/>
<line x1="1422.2" y1="560.3" x2="1425.3" y2="558.8" stroke-width="1.1"/>
<circle cx="1420.5" cy="561.8" r="2.2" stroke-width="1.1"/>
<line x1="1493.8" y1="614.4" x2="1493.8" y2="679.5"/>
<line x1="1493.8" y1="679.5" x2="1350.2" y2="760.1"/>
<line x1="1511.6" y1="624.8" x2="1607.6" y2="677.8"/>
<line x1="1511.6" y1="677.5" x2="1607.6" y2="730.5"/>
<line x1="1511.6" y1="731.5" x2="1607.6" y2="784.5"/>
<line x1="1511.6" y1="785.5" x2="1607.6" y2="838.5"/>
<line x1="1511.6" y1="838.7" x2="1607.6" y2="891.7"/>
<line x1="1511.6" y1="844.8" x2="1607.6" y2="896.5"/>
<line x1="1511.6" y1="853" x2="1607.6" y2="907.5"/>
<line x1="1607.6" y1="640" x2="1607.6" y2="907.5"/>
<line x1="1616.9" y1="639.5" x2="1616.9" y2="914"/>
<line x1="1607.6" y1="907.5" x2="1616.9" y2="914"/>
<line x1="1616.9" y1="914" x2="1761.2" y2="831.1"/>
<line x1="1761" y1="556" x2="1761" y2="832"/>
<circle cx="1533.6" cy="619.2" r="13.4" fill="#000" stroke="none"/>
<text transform="translate(1533.6 618.5) rotate(0)" x="0" y="7" font-size="19.5" text-anchor="middle" fill="#fff" stroke="#fff" stroke-width="0.2">A</text>
<ellipse cx="0" cy="0" rx="4.2" ry="5.5" transform="translate(1558.6 633.5) rotate(-30)" stroke-width="0.8" fill="#000"/>
<circle cx="1552.3" cy="637.5" r="5.6" stroke-width="1.7" fill="#8a8a8a"/>
<line x1="1553.5" y1="636.5" x2="1556.6" y2="640" stroke-width="1.1"/>
<line x1="1553.5" y1="636.5" x2="1552.3" y2="642.5" stroke-width="1.1"/>
<line x1="1553.5" y1="636.5" x2="1548" y2="640" stroke-width="1.1"/>
<line x1="1553.5" y1="636.5" x2="1548" y2="635" stroke-width="1.1"/>
<line x1="1553.5" y1="636.5" x2="1552.3" y2="632.5" stroke-width="1.1"/>
<line x1="1553.5" y1="636.5" x2="1556.6" y2="635" stroke-width="1.1"/>
<circle cx="1551.8" cy="638" r="2.2" stroke-width="1.1"/>
<circle cx="1533.6" cy="663.6" r="13.4" fill="#000" stroke="none"/>
<text transform="translate(1533.6 662.9) rotate(0)" x="0" y="7" font-size="19.5" text-anchor="middle" fill="#fff" stroke="#fff" stroke-width="0.2">C</text>
<ellipse cx="0" cy="0" rx="4.2" ry="5.5" transform="translate(1558.6 677.9) rotate(-30)" stroke-width="0.8" fill="#000"/>
<circle cx="1552.3" cy="681.9" r="5.6" stroke-width="1.7" fill="#8a8a8a"/>
<line x1="1553.5" y1="680.9" x2="1556.6" y2="684.4" stroke-width="1.1"/>
<line x1="1553.5" y1="680.9" x2="1552.3" y2="686.9" stroke-width="1.1"/>
<line x1="1553.5" y1="680.9" x2="1548" y2="684.4" stroke-width="1.1"/>
<line x1="1553.5" y1="680.9" x2="1548" y2="679.4" stroke-width="1.1"/>
<line x1="1553.5" y1="680.9" x2="1552.3" y2="676.9" stroke-width="1.1"/>
<line x1="1553.5" y1="680.9" x2="1556.6" y2="679.4" stroke-width="1.1"/>
<circle cx="1551.8" cy="682.4" r="2.2" stroke-width="1.1"/>
<circle cx="1533.6" cy="717.2" r="13.4" fill="#000" stroke="none"/>
<text transform="translate(1533.6 716.5) rotate(0)" x="0" y="7" font-size="19.5" text-anchor="middle" fill="#fff" stroke="#fff" stroke-width="0.2">C</text>
<ellipse cx="0" cy="0" rx="4.2" ry="5.5" transform="translate(1558.6 731.5) rotate(-30)" stroke-width="0.8" fill="#000"/>
<circle cx="1552.3" cy="735.5" r="5.6" stroke-width="1.7" fill="#8a8a8a"/>
<line x1="1553.5" y1="734.5" x2="1556.6" y2="738" stroke-width="1.1"/>
<line x1="1553.5" y1="734.5" x2="1552.3" y2="740.5" stroke-width="1.1"/>
<line x1="1553.5" y1="734.5" x2="1548" y2="738" stroke-width="1.1"/>
<line x1="1553.5" y1="734.5" x2="1548" y2="733" stroke-width="1.1"/>
<line x1="1553.5" y1="734.5" x2="1552.3" y2="730.5" stroke-width="1.1"/>
<line x1="1553.5" y1="734.5" x2="1556.6" y2="733" stroke-width="1.1"/>
<circle cx="1551.8" cy="736" r="2.2" stroke-width="1.1"/>
<circle cx="1533.6" cy="770.9" r="13.4" fill="#000" stroke="none"/>
<text transform="translate(1533.6 770.2) rotate(0)" x="0" y="7" font-size="19.5" text-anchor="middle" fill="#fff" stroke="#fff" stroke-width="0.2">C</text>
<ellipse cx="0" cy="0" rx="4.2" ry="5.5" transform="translate(1558.6 785.2) rotate(-30)" stroke-width="0.8" fill="#000"/>
<circle cx="1552.3" cy="789.2" r="5.6" stroke-width="1.7" fill="#8a8a8a"/>
<line x1="1553.5" y1="788.2" x2="1556.6" y2="791.7" stroke-width="1.1"/>
<line x1="1553.5" y1="788.2" x2="1552.3" y2="794.2" stroke-width="1.1"/>
<line x1="1553.5" y1="788.2" x2="1548" y2="791.7" stroke-width="1.1"/>
<line x1="1553.5" y1="788.2" x2="1548" y2="786.7" stroke-width="1.1"/>
<line x1="1553.5" y1="788.2" x2="1552.3" y2="784.2" stroke-width="1.1"/>
<line x1="1553.5" y1="788.2" x2="1556.6" y2="786.7" stroke-width="1.1"/>
<circle cx="1551.8" cy="789.7" r="2.2" stroke-width="1.1"/>
<circle cx="1533.6" cy="824.5" r="13.4" fill="#000" stroke="none"/>
<text transform="translate(1533.6 823.8) rotate(0)" x="0" y="7" font-size="19.5" text-anchor="middle" fill="#fff" stroke="#fff" stroke-width="0.2">C</text>
<ellipse cx="0" cy="0" rx="4.2" ry="5.5" transform="translate(1558.6 838.8) rotate(-30)" stroke-width="0.8" fill="#000"/>
<circle cx="1552.3" cy="842.8" r="5.6" stroke-width="1.7" fill="#8a8a8a"/>
<line x1="1553.5" y1="841.8" x2="1556.6" y2="845.3" stroke-width="1.1"/>
<line x1="1553.5" y1="841.8" x2="1552.3" y2="847.8" stroke-width="1.1"/>
<line x1="1553.5" y1="841.8" x2="1548" y2="845.3" stroke-width="1.1"/>
<line x1="1553.5" y1="841.8" x2="1548" y2="840.3" stroke-width="1.1"/>
<line x1="1553.5" y1="841.8" x2="1552.3" y2="837.8" stroke-width="1.1"/>
<line x1="1553.5" y1="841.8" x2="1556.6" y2="840.3" stroke-width="1.1"/>
<circle cx="1551.8" cy="843.3" r="2.2" stroke-width="1.1"/>
<line x1="1258.7" y1="571.1" x2="1338.7" y2="524.7" stroke-width="1.3"/>
<polygon fill="#000" stroke="none" points="1258.7,571.1 1267.2,563.8 1269.3,567.4"/>
<polygon fill="#000" stroke="none" points="1338.7,524.7 1330.2,532 1328.1,528.4"/>
<text transform="translate(1290.7 539.1) rotate(-30)" x="0" y="8.5" font-size="23.7" text-anchor="middle" fill="#000" stroke="#000" stroke-width="0.2">16.14"</text>
<line x1="1260.3" y1="577.5" x2="1343.5" y2="625.5" stroke-width="1.3"/>
<polygon fill="#000" stroke="none" points="1260.3,577.5 1270.9,581.2 1268.8,584.8"/>
<polygon fill="#000" stroke="none" points="1343.5,625.5 1332.9,621.8 1335,618.2"/>
<text transform="translate(1306.7 585.5) rotate(30)" x="0" y="8.5" font-size="23.7" text-anchor="middle" fill="#000" stroke="#000" stroke-width="0.2">11.73"</text>
<line x1="1345" y1="524.7" x2="1345" y2="625.5" stroke-width="1.3"/>
<polygon fill="#000" stroke="none" points="1345,524.7 1347.1,535.7 1342.9,535.7"/>
<polygon fill="#000" stroke="none" points="1345,625.5 1342.9,614.5 1347.1,614.5"/>
<text transform="translate(1333.9 556.7) rotate(-90)" x="0" y="8.5" font-size="23.7" text-anchor="middle" fill="#000" stroke="#000" stroke-width="0.2">10.83"</text>
<line x1="1258.7" y1="679.8" x2="1343.5" y2="631.9" stroke-width="1.3"/>
<polygon fill="#000" stroke="none" points="1258.7,679.8 1267.2,672.6 1269.3,676.2"/>
<polygon fill="#000" stroke="none" points="1343.5,631.9 1335,639.1 1332.9,635.5"/>
<text transform="translate(1295.5 647.9) rotate(-30)" x="0" y="8.5" font-size="23.7" text-anchor="middle" fill="#000" stroke="#000" stroke-width="0.2">16.14"</text>
<line x1="1345" y1="631.9" x2="1345" y2="739" stroke-width="1.3"/>
<polygon fill="#000" stroke="none" points="1345,631.9 1347.1,642.9 1342.9,642.9"/>
<polygon fill="#000" stroke="none" points="1345,739 1342.9,728 1347.1,728"/>
<text transform="translate(1335.5 670.3) rotate(-90)" x="0" y="8.5" font-size="23.7" text-anchor="middle" fill="#000" stroke="#000" stroke-width="0.2">11.3"</text>
<line x1="1260.3" y1="692.6" x2="1343.5" y2="740.6" stroke-width="1.3"/>
<polygon fill="#000" stroke="none" points="1260.3,692.6 1270.9,696.3 1268.8,699.9"/>
<polygon fill="#000" stroke="none" points="1343.5,740.6 1332.9,736.9 1335,733.3"/>
<text transform="translate(1309.9 702.2) rotate(30)" x="0" y="8.5" font-size="23.7" text-anchor="middle" fill="#000" stroke="#000" stroke-width="0.2">11.73"</text>
<line x1="1349" y1="761.2" x2="1502" y2="849.2" stroke-width="1.3"/>
<polygon fill="#000" stroke="none" points="1349,761.2 1359.6,764.9 1357.5,768.5"/>
<polygon fill="#000" stroke="none" points="1502,849.2 1491.4,845.5 1493.5,841.9"/>
<line x1="1351.1" y1="757.5" x2="1346.9" y2="764.9" stroke-width="1.4"/>
<line x1="1504.1" y1="845.5" x2="1499.9" y2="852.9" stroke-width="1.4"/>
<text transform="translate(1435.3 794.8) rotate(29.5)" x="0" y="8.5" font-size="23.7" text-anchor="middle" fill="#000" stroke="#000" stroke-width="0.2">19.29"</text>
<line x1="1500.3" y1="619.2" x2="1500.3" y2="849" stroke-width="1.3"/>
<polygon fill="#000" stroke="none" points="1500.3,619.2 1502.4,630.2 1498.2,630.2"/>
<polygon fill="#000" stroke="none" points="1500.3,849 1498.2,838 1502.4,838"/>
<line x1="1496.3" y1="619.2" x2="1504.3" y2="619.2" stroke-width="1.4"/>
<line x1="1496.3" y1="849" x2="1504.3" y2="849" stroke-width="1.4"/>
<text transform="translate(1487 737.2) rotate(-90)" x="0" y="8.5" font-size="23.7" text-anchor="middle" fill="#000" stroke="#000" stroke-width="0.2">25.08"</text>
<line x1="1618.7" y1="920.7" x2="1770.4" y2="835.6" stroke-width="1.3"/>
<polygon fill="#000" stroke="none" points="1618.7,920.7 1627.3,913.5 1629.3,917.1"/>
<polygon fill="#000" stroke="none" points="1770.4,835.6 1761.8,842.8 1759.8,839.2"/>
<line x1="1616.6" y1="916.9" x2="1620.8" y2="924.5" stroke-width="1.4"/>
<line x1="1768.3" y1="831.8" x2="1772.5" y2="839.4" stroke-width="1.4"/>
<text transform="translate(1702 889.3) rotate(-29.5)" x="0" y="8.5" font-size="23.7" text-anchor="middle" fill="#000" stroke="#000" stroke-width="0.2">18.5"</text>
</g>
</svg>
</body></html>
